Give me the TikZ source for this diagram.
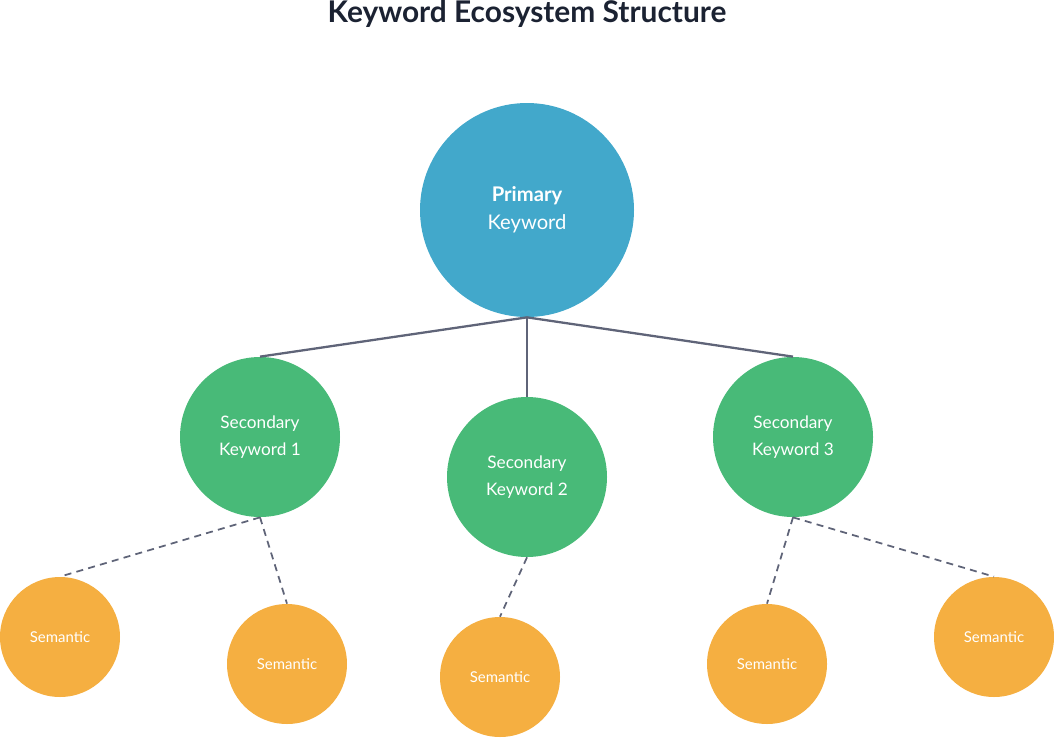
\documentclass[tikz,border=0pt]{standalone}
\usepackage{fontspec}
\setmainfont{Lato}
\definecolor{kblue}{HTML}{42A8CB}
\definecolor{kgreen}{HTML}{48BA78}
\definecolor{korange}{HTML}{F5AF41}
\definecolor{kline}{HTML}{5F6478}
\definecolor{ktitle}{HTML}{1B2232}
\begin{document}
\begin{tikzpicture}[x=0.02cm,y=-0.02cm,
  kw/.style={circle,inner sep=0pt,text=white,align=center},
  solidln/.style={kline,line width=1.3pt},
  dashln/.style={kline,line width=1pt,dash pattern=on 4pt off 3pt}]
\useasboundingbox (0,0) rectangle (1054,737);
\node[text=ktitle,font=\fontsize{17}{20}\selectfont\bfseries] (title) at (527,14) {Keyword Ecosystem Structure};
\node[kw,fill=kblue,minimum size=214*0.02cm,font=\fontsize{11.5}{16}\selectfont] (p) at (527,210) {\textbf{Primary}\\Keyword};
\foreach \kn/\kx/\ky in {1/260/437,2/527/477,3/793/437}{
  \node[kw,fill=kgreen,minimum size=160*0.02cm,font=\fontsize{9.8}{15}\selectfont] (s\kn) at (\kx,\ky) {Secondary\\Keyword \kn};
}
\foreach \kn/\kx/\ky in {1/60/637,2/287/664,3/500/677,4/767/664,5/994/637}{
  \node[kw,fill=korange,minimum size=120*0.02cm,font=\fontsize{8.5}{10}\selectfont] (m\kn) at (\kx,\ky) {Semantic};
}
\foreach \kn in {1,2,3}{\draw[solidln] (p.south)--(s\kn.north);}
\foreach \ks/\km in {1/1,1/2,2/3,3/4,3/5}{\draw[dashln] (s\ks.south)--(m\km.north);}
\end{tikzpicture}
\end{document}
